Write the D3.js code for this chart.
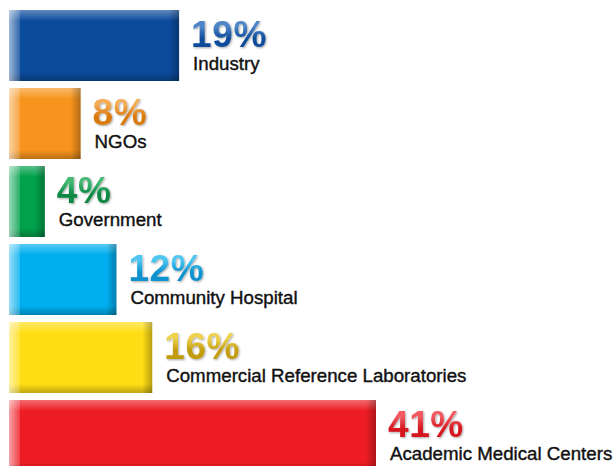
<!DOCTYPE html>
<html>
<head>
<meta charset="utf-8">
<script src="https://cdn.jsdelivr.net/npm/d3@7"></script>
<style>
  body { margin: 0; background: #fff; }
</style>
</head>
<body>
<div id="container"></div>
<script>
let w = 615;
let h = 466;

// the data
let categories = ["Industry", "NGOs", "Government", "Community Hospital",
  "Commercial Reference Laboratories", "Academic Medical Centers"];
let shares = [19, 8, 4, 12, 16, 41];
let barColors = ["#0b4b9c", "#f7941d", "#00a14b", "#00aeef", "#ffdd15", "#ed1c24"];
// top / bottom colour of the gradient on the big percent numbers
let numTop = ["#4f86c8", "#f5ad55", "#43b872", "#4fc6f1", "#efd24c", "#f25a61"];
let numBottom = ["#0f4c9b", "#d97a10", "#0a8842", "#0a92cf", "#c29c10", "#d6141f"];

let data = categories.map(function(c, i){
  return {name: c, value: shares[i], color: barColors[i], top: numTop[i], bottom: numBottom[i], i: i};
});

let viz = d3.select("#container")
  .append("svg")
    .attr("width", w)
    .attr("height", h)
    .style("display", "block");

let xScale = d3.scaleLinear().domain([0, 41]).range([9, 376]);
let yScale = d3.scaleBand().domain(categories).range([10, 471]).paddingInner(7/78).paddingOuter(0);

let defs = viz.append("defs");

// helper to make a simple 2-stop gradient
function grad(id, x2, y2, c1, o1, c2, o2){
  let g = defs.append("linearGradient").attr("id", id)
    .attr("x1", 0).attr("y1", 0).attr("x2", x2).attr("y2", y2);
  g.append("stop").attr("offset", 0).attr("stop-color", c1).attr("stop-opacity", o1);
  g.append("stop").attr("offset", 1).attr("stop-color", c2).attr("stop-opacity", o2);
}
grad("bevLeft", 1, 0, "#fff", 0.6, "#fff", 0.15);
grad("bevTop", 0, 1, "#fff", 0.35, "#fff", 0.0);
grad("bevRight", 1, 0, "#000", 0.0, "#000", 0.28);
grad("bevBottom", 0, 1, "#000", 0.0, "#000", 0.25);

data.forEach(function(d){
  let g = defs.append("linearGradient").attr("id", "num" + d.i)
    .attr("x1", 0).attr("y1", 0).attr("x2", 0).attr("y2", 1);
  g.append("stop").attr("offset", 0).attr("stop-color", d.top);
  g.append("stop").attr("offset", 0.3).attr("stop-color", d.top);
  g.append("stop").attr("offset", 0.6).attr("stop-color", d.bottom);
  g.append("stop").attr("offset", 1).attr("stop-color", d.bottom);
});

let shadow = defs.append("filter").attr("id", "numShadow")
  .attr("x", "-10%").attr("y", "-10%").attr("width", "130%").attr("height", "130%");
shadow.append("feDropShadow").attr("dx", 1).attr("dy", 1).attr("stdDeviation", 0.8)
  .attr("flood-color", "#000").attr("flood-opacity", 0.35);

let bev = 11;

let groups = viz.selectAll(".datagroup").data(data).enter()
  .append("g").attr("class", "datagroup")
  .attr("transform", function(d){
    return "translate(" + xScale(0) + "," + yScale(d.name) + ")";
  });

groups.append("rect")
  .attr("width", function(d){ return xScale(d.value) - xScale(0); })
  .attr("height", yScale.bandwidth())
  .attr("fill", function(d){ return d.color; });

// bevel strips
groups.append("rect")
  .attr("width", function(d){ return xScale(d.value) - xScale(0); })
  .attr("height", bev)
  .attr("fill", "url(#bevTop)");
groups.append("rect")
  .attr("y", yScale.bandwidth() - 9)
  .attr("width", function(d){ return xScale(d.value) - xScale(0); })
  .attr("height", 9)
  .attr("fill", "url(#bevBottom)");
groups.append("rect")
  .attr("x", function(d){ return xScale(d.value) - xScale(0) - 10; })
  .attr("width", 10)
  .attr("height", yScale.bandwidth())
  .attr("fill", "url(#bevRight)");
groups.append("rect")
  .attr("width", bev)
  .attr("height", yScale.bandwidth())
  .attr("fill", "url(#bevLeft)");

// percent numbers
groups.append("text")
  .attr("x", function(d){ return xScale(d.value) - xScale(0) + 12; })
  .attr("y", 37)
  .attr("font-family", "'Liberation Sans', Arial, sans-serif")
  .attr("font-weight", "bold")
  .attr("font-size", 37)
  .attr("letter-spacing", 0.6)
  .attr("fill", function(d){ return "url(#num" + d.i + ")"; })
  .attr("filter", "url(#numShadow)")
  .text(function(d){ return d.value + "%"; });

// category labels
groups.append("text")
  .attr("x", function(d){ return xScale(d.value) - xScale(0) + 14; })
  .attr("y", 60)
  .attr("font-family", "'Liberation Sans', Arial, sans-serif")
  .attr("font-size", 18.7)
  .attr("fill", "#111")
  .attr("stroke", "#111")
  .attr("stroke-width", 0.4)
  .text(function(d){ return d.name; });
</script>
</body>
</html>
